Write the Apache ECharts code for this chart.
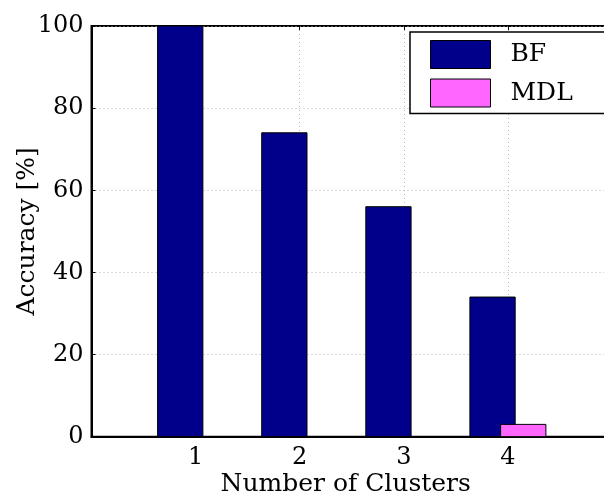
<!DOCTYPE html>
<html>
<head>
<meta charset="utf-8">
<script src="https://cdn.jsdelivr.net/npm/echarts@6/dist/echarts.min.js"></script>
<style>
  html, body { margin: 0; padding: 0; background: #fff; }
  #chart { width: 604px; height: 500px; }
</style>
</head>
<body>
<div id="chart"></div>
<script>
// Accuracy of the two cluster-count estimators
const categories = [1, 2, 3, 4];
const bfValues = [100, 74, 56, 34];
const mdlValues = [0, 0, 0, 3];
const yTicks = [0, 20, 40, 60, 80, 100];

const FONT = '"DejaVu Serif", "Liberation Serif", serif';
const BAR_WIDTH = 0.435;         // bar width in x-axis units
const BF_OFFSET = -0.365;        // left edge of BF bar relative to the tick
const MDL_OFFSET = -0.07;        // left edge of MDL bar relative to the tick
const BF_COLOR = '#00008B';
const MDL_COLOR = '#FF66FF';

function barRenderer(offset, color) {
  return function (params, api) {
    const x = api.value(0);
    const y = api.value(1);
    const p0 = api.coord([x + offset, y]);
    const p1 = api.coord([x + offset + BAR_WIDTH, 0]);
    return {
      type: 'rect',
      shape: { x: p0[0], y: p0[1], width: p1[0] - p0[0], height: p1[1] - p0[1] },
      style: { fill: color, stroke: '#000', lineWidth: 1 }
    };
  };
}

const chart = echarts.init(document.getElementById('chart'), null, { renderer: 'canvas' });

const gridLine = { show: true, lineStyle: { color: '#b5b5b5', width: 1, type: [1, 3] } };

chart.setOption({
  animation: false,
  backgroundColor: '#fff',
  grid: {
    left: 91.5, top: 26, width: 520.5, height: 410.7,
    outerBoundsMode: 'none', containLabel: false,
    show: true, borderColor: '#000', borderWidth: 2, backgroundColor: 'transparent'
  },
  legend: {
    orient: 'vertical',
    left: 410, top: 32,
    padding: [8, 60, 6, 20],
    itemWidth: 60, itemHeight: 28, itemGap: 9.5,
    backgroundColor: '#fff', borderColor: '#000', borderWidth: 1.5, borderRadius: 0,
    textStyle: { fontFamily: FONT, fontSize: 25, color: '#000', padding: [0, 0, 0, 15] },
    data: [
      { name: 'BF', icon: 'rect', itemStyle: { color: BF_COLOR, borderColor: '#000', borderWidth: 1 } },
      { name: 'MDL', icon: 'rect', itemStyle: { color: MDL_COLOR, borderColor: '#000', borderWidth: 1 } }
    ]
  },
  xAxis: [{
    type: 'value', min: 0, max: 5, interval: 1,
    name: 'Number of Clusters', nameLocation: 'middle', nameGap: 35,
    nameMoveOverlap: false,
    nameTextStyle: { fontFamily: FONT, fontSize: 25, color: '#000', padding: [0, 12, 0, 0] },
    axisLine: { show: true, lineStyle: { color: '#000', width: 2 } },
    axisTick: { show: true, inside: true, length: 4, lineStyle: { color: '#000' } },
    axisLabel: {
      fontFamily: FONT, fontSize: 24, color: '#000', margin: 9,
      formatter: v => (categories.indexOf(v) >= 0 ? String(v) : '')
    },
    splitLine: gridLine
  }, {
    type: 'value', min: 0, max: 5, interval: 1, position: 'top',
    axisLine: { show: false },
    axisTick: { show: true, inside: true, length: 4, lineStyle: { color: '#000' } },
    axisLabel: { show: false },
    splitLine: { show: false }
  }],
  yAxis: {
    type: 'value', min: 0, max: 100, interval: 20,
    name: 'Accuracy [%]', nameLocation: 'middle', nameGap: 52,
    nameMoveOverlap: false,
    nameTextStyle: { fontFamily: FONT, fontSize: 25, color: '#000' },
    axisLine: { show: true, lineStyle: { color: '#000', width: 2 } },
    axisTick: { show: true, inside: true, length: 4, lineStyle: { color: '#000' } },
    axisLabel: {
      fontFamily: FONT, fontSize: 24, color: '#000', margin: 8,
      formatter: v => (yTicks.indexOf(v) >= 0 ? String(v) : '')
    },
    splitLine: gridLine
  },
  series: [{
    name: 'BF', type: 'custom',
    itemStyle: { color: BF_COLOR, borderColor: '#000', borderWidth: 1 },
    renderItem: barRenderer(BF_OFFSET, BF_COLOR),
    encode: { x: 0, y: 1 },
    data: categories.map((c, i) => [c, bfValues[i]])
  }, {
    name: 'MDL', type: 'custom',
    itemStyle: { color: MDL_COLOR, borderColor: '#000', borderWidth: 1 },
    renderItem: barRenderer(MDL_OFFSET, MDL_COLOR),
    encode: { x: 0, y: 1 },
    data: categories.map((c, i) => [c, mdlValues[i]])
  }]
});
</script>
</body>
</html>
